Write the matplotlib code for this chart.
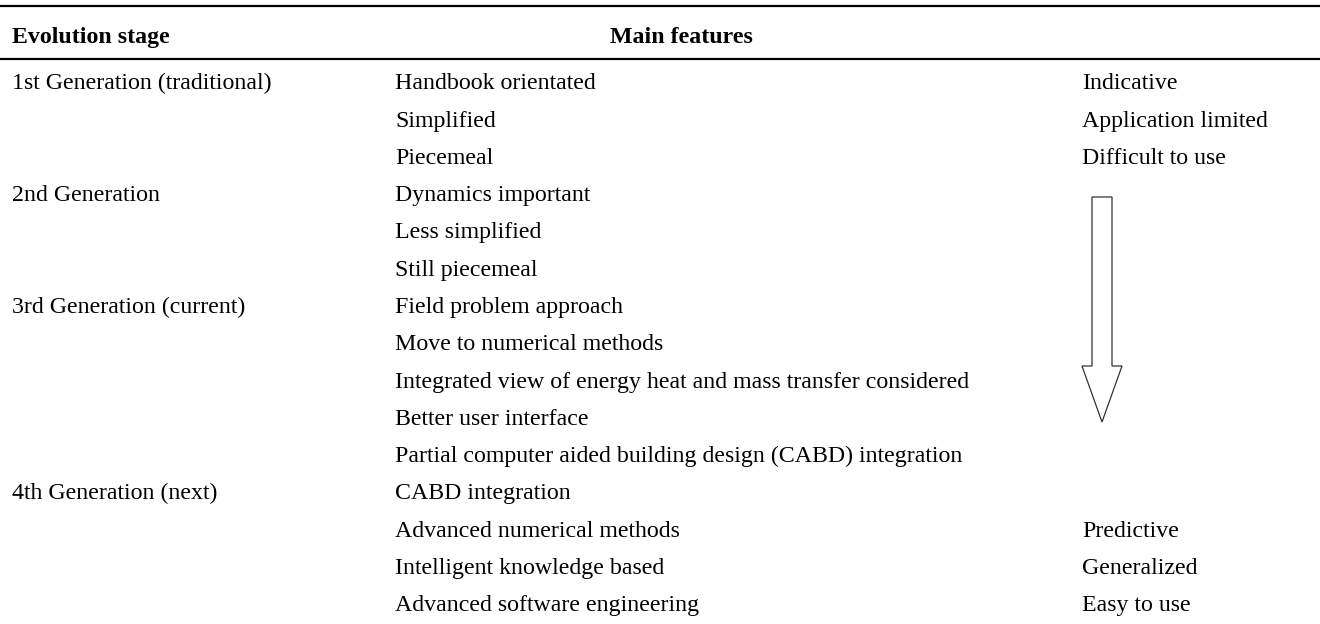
import matplotlib
matplotlib.use("Agg")
import matplotlib.pyplot as plt
from matplotlib.patches import Polygon

# ---- table content ----
header_stage = "Evolution stage"
header_features = "Main features"

stages = ["1st Generation (traditional)", "", "",
          "2nd Generation", "", "",
          "3rd Generation (current)", "", "", "", "",
          "4th Generation (next)", "", "", ""]

features = ["Handbook orientated",
            "Simplified",
            "Piecemeal",
            "Dynamics important",
            "Less simplified",
            "Still piecemeal",
            "Field problem approach",
            "Move to numerical methods",
            "Integrated view of energy heat and mass transfer considered",
            "Better user interface",
            "Partial computer aided building design (CABD) integration",
            "CABD integration",
            "Advanced numerical methods",
            "Intelligent knowledge based",
            "Advanced software engineering"]

qualities = ["Indicative", "Application limited", "Difficult to use",
             "", "", "", "", "", "", "", "", "",
             "Predictive", "Generalized", "Easy to use"]

# ---- layout ----
W, H = 1320, 624
fig = plt.figure(figsize=(W / 100, H / 100), dpi=100)
ax = fig.add_axes([0, 0, 1, 1])
ax.set_xlim(0, W)
ax.set_ylim(H, 0)
ax.axis("off")

font = ["Liberation Serif", "DejaVu Serif"]
fs = 17.2
x_col1, x_col2, x_col3 = 12, 395, 1082
x_head2 = 610
base0, step = 89.2, 37.3

# rules
ax.plot([0, W], [6, 6], color="black", lw=1.6, solid_capstyle="butt")
ax.plot([0, W], [59, 59], color="black", lw=1.6, solid_capstyle="butt")

# header
ax.text(x_col1, 43, header_stage, fontsize=fs, fontweight="bold",
        family=font, va="baseline", ha="left")
ax.text(x_head2, 43, header_features, fontsize=fs, fontweight="bold",
        family=font, va="baseline", ha="left")

for i, (s, f, q) in enumerate(zip(stages, features, qualities)):
    y = base0 + i * step
    if s:
        ax.text(x_col1, y, s, fontsize=fs, family=font, va="baseline", ha="left")
    if f:
        ax.text(x_col2, y, f, fontsize=fs, family=font, va="baseline", ha="left")
    if q:
        ax.text(x_col3, y, q, fontsize=fs, family=font, va="baseline", ha="left")

# downward hollow arrow
cx = 1102
shaft_half, head_half = 10, 20
top, neck, tip = 197, 366, 422
arrow = Polygon([(cx - shaft_half, top), (cx + shaft_half, top),
                 (cx + shaft_half, neck), (cx + head_half, neck),
                 (cx, tip), (cx - head_half, neck),
                 (cx - shaft_half, neck)],
                closed=True, facecolor="white", edgecolor="#333333", lw=0.9)
ax.add_patch(arrow)

fig.savefig("out.png", dpi=100)
